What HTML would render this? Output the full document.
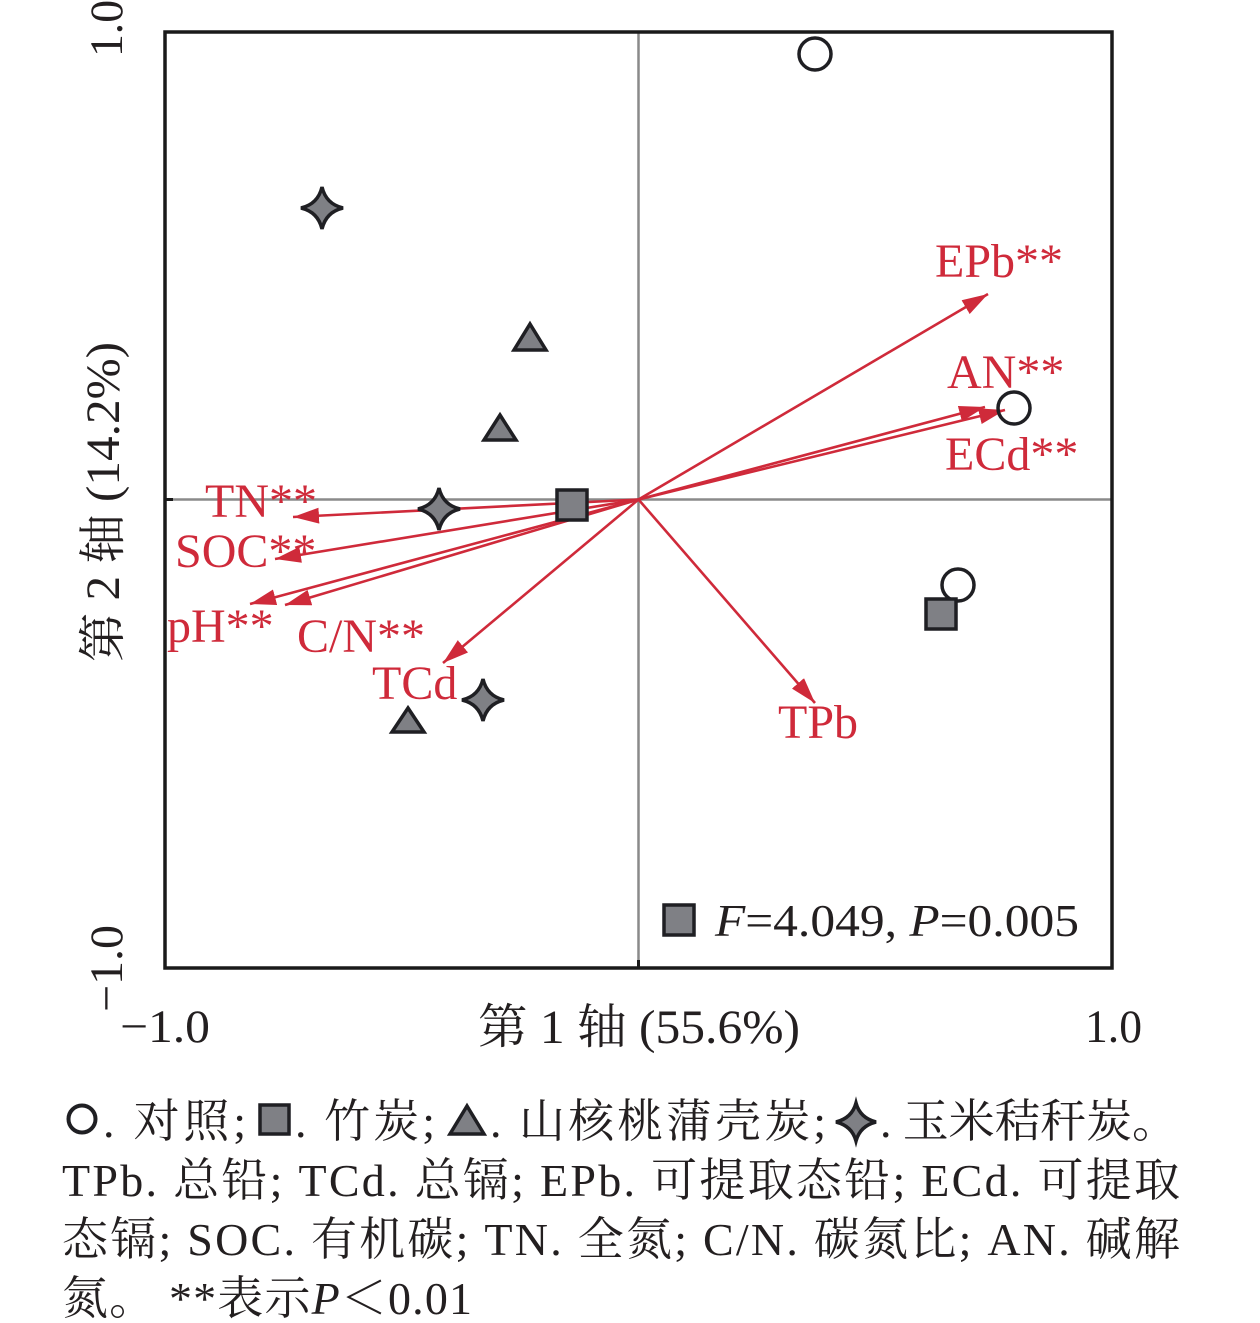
<!DOCTYPE html>
<html><head><meta charset="utf-8">
<style>
html,body{margin:0;padding:0;background:#fff;}
svg{display:block;}
.lat{font-family:"Liberation Serif","Noto Serif CJK SC",serif;}
.cjk{font-family:"Liberation Serif","Noto Serif CJK SC","Noto Sans CJK SC",serif;}
.red{fill:#cf2a3a;}
.blk{fill:#231f20;}
</style></head>
<body>
<svg width="1260" height="1323" viewBox="0 0 1260 1323" xmlns="http://www.w3.org/2000/svg">
<defs>
<marker id="ah" viewBox="0 0 26 16" refX="26" refY="8" markerWidth="26" markerHeight="16" markerUnits="userSpaceOnUse" orient="auto">
<path d="M0,0 L26,8 L0,16 Z" fill="#cf2a3a"/>
</marker>
</defs>
<rect x="0" y="0" width="1260" height="1323" fill="#fff"/>

<!-- center lines -->
<line x1="165" y1="499.5" x2="1112" y2="499.5" stroke="#8a8a8a" stroke-width="2.5"/>
<line x1="638.5" y1="32" x2="638.5" y2="968" stroke="#8a8a8a" stroke-width="2.5"/>
<line x1="165" y1="499.5" x2="173" y2="499.5" stroke="#1a1a1a" stroke-width="3"/>
<line x1="638.5" y1="960" x2="638.5" y2="968" stroke="#1a1a1a" stroke-width="3"/>

<!-- frame -->
<rect x="165" y="32" width="947" height="936" fill="none" stroke="#1a1a1a" stroke-width="3.5"/>

<!-- arrows -->
<g stroke="#cf2a3a" stroke-width="2.6" fill="none" marker-end="url(#ah)">
<line x1="638.5" y1="499.5" x2="988" y2="294"/>
<line x1="638.5" y1="499.5" x2="985" y2="407"/>
<line x1="638.5" y1="499.5" x2="1005" y2="410"/>
<line x1="638.5" y1="499.5" x2="815" y2="703"/>
<line x1="638.5" y1="499.5" x2="293" y2="517"/>
<line x1="638.5" y1="499.5" x2="275" y2="559"/>
<line x1="638.5" y1="499.5" x2="250" y2="604"/>
<line x1="638.5" y1="499.5" x2="285" y2="605"/>
<line x1="638.5" y1="499.5" x2="443" y2="663"/>
</g>

<!-- arrow labels -->
<g class="lat red" font-size="48">
<text x="935" y="277">EPb**</text>
<text x="947" y="388">AN**</text>
<text x="945" y="470">ECd**</text>
<text x="205" y="517">TN**</text>
<text x="175" y="567">SOC**</text>
<text x="167" y="642">pH**</text>
<text x="297" y="652">C/N**</text>
<text x="372" y="699">TCd</text>
<text x="778" y="738">TPb</text>
</g>

<!-- markers -->
<g fill="#7f8085" stroke="#1f1f23" stroke-width="3.5" stroke-linejoin="miter">
<!-- circles -->
<circle cx="815" cy="54" r="16" fill="none"/>
<circle cx="1014" cy="408" r="16" fill="none"/>
<circle cx="958" cy="585" r="16" fill="none"/>
<!-- squares -->
<rect x="557" y="490" width="30" height="30"/>
<rect x="926" y="599" width="30" height="30"/>
<!-- triangles -->
<path d="M530,324 L546,350 L514,350 Z"/>
<path d="M500,415 L516,440 L484,440 Z"/>
<path d="M408,708 L424,732 L392,732 Z"/>
<!-- stars -->
<path transform="translate(322,208)" d="M0,-21 Q4,-4 21,0 Q4,4 0,21 Q-4,4 -21,0 Q-4,-4 0,-21 Z"/>
<path transform="translate(439,509)" d="M0,-21 Q4,-4 21,0 Q4,4 0,21 Q-4,4 -21,0 Q-4,-4 0,-21 Z"/>
<path transform="translate(483,700)" d="M0,-21 Q4,-4 21,0 Q4,4 0,21 Q-4,4 -21,0 Q-4,-4 0,-21 Z"/>
</g>

<!-- legend in plot -->
<rect x="664" y="905" width="30" height="30" fill="#7f8085" stroke="#1f1f23" stroke-width="3.5"/>
<text class="lat blk" x="715" y="936" font-size="46" textLength="364" lengthAdjust="spacingAndGlyphs"><tspan font-style="italic">F</tspan>=4.049, <tspan font-style="italic">P</tspan>=0.005</text>

<!-- tick labels -->
<g class="lat blk" font-size="47">
<text x="120" y="1042" textLength="90" lengthAdjust="spacingAndGlyphs">−1.0</text>
<text x="1085" y="1042" textLength="57" lengthAdjust="spacingAndGlyphs">1.0</text>
<text transform="translate(122,57) rotate(-90)" textLength="57" lengthAdjust="spacingAndGlyphs">1.0</text>
<text transform="translate(122,1012) rotate(-90)" textLength="87" lengthAdjust="spacingAndGlyphs">−1.0</text>
</g>

<!-- axis titles -->
<text class="cjk blk" x="478" y="1043" font-size="48" textLength="322" lengthAdjust="spacingAndGlyphs">第 1 轴 (55.6%)</text>
<text class="cjk blk" transform="translate(119,662) rotate(-90)" font-size="48" textLength="320" lengthAdjust="spacingAndGlyphs">第 2 轴 (14.2%)</text>

<!-- caption line 1 -->
<circle cx="82" cy="1119" r="13.5" fill="none" stroke="#1f1f23" stroke-width="4"/>
<text class="cjk blk" x="103" y="1137" font-size="46" textLength="143" lengthAdjust="spacing">. 对照;</text>
<rect x="260" y="1105" width="29" height="29" fill="#7f8085" stroke="#1f1f23" stroke-width="3.5"/>
<text class="cjk blk" x="295" y="1137" font-size="46" textLength="140" lengthAdjust="spacing">. 竹炭;</text>
<path d="M467,1106 L484,1134 L450,1134 Z" fill="#7f8085" stroke="#1f1f23" stroke-width="3.5"/>
<text class="cjk blk" x="490" y="1137" font-size="46" textLength="336" lengthAdjust="spacing">. 山核桃蒲壳炭;</text>
<path transform="translate(856,1122)" d="M0,-19 Q4,-4 20,0 Q4,4 0,19 Q-4,4 -20,0 Q-4,-4 0,-19 Z" fill="#7f8085" stroke="#1f1f23" stroke-width="3.5"/>
<text class="cjk blk" x="880" y="1137" font-size="46" textLength="298" lengthAdjust="spacing">. 玉米秸秆炭。</text>

<!-- caption lines 2-4 -->
<text class="cjk blk" x="62" y="1196" font-size="46" textLength="1118" lengthAdjust="spacing">TPb. 总铅; TCd. 总镉; EPb. 可提取态铅; ECd. 可提取</text>
<text class="cjk blk" x="62" y="1255" font-size="46" textLength="1118" lengthAdjust="spacing">态镉; SOC. 有机碳; TN. 全氮; C/N. 碳氮比; AN. 碱解</text>
<text class="cjk blk" x="62" y="1314" font-size="46" textLength="410" lengthAdjust="spacing">氮。 **表示<tspan font-style="italic">P</tspan>＜0.01</text>
</svg>
</body></html>
